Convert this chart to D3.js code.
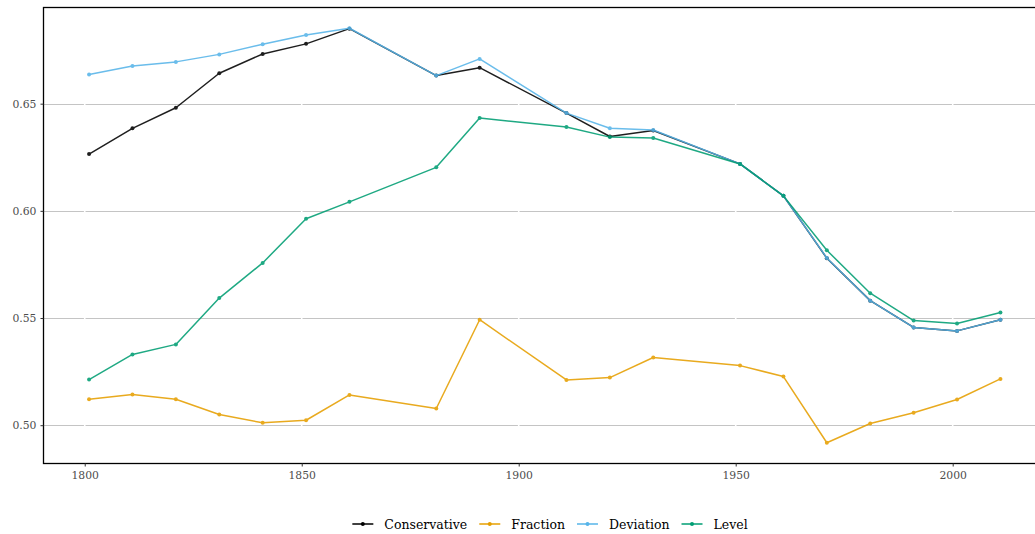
<!DOCTYPE html>
<html>
<head>
<meta charset="utf-8">
<script src="https://cdn.jsdelivr.net/npm/d3@7"></script>
<style>
  html, body { margin: 0; padding: 0; background: #ffffff; }
  svg { display: block; }
</style>
</head>
<body>
<svg id="chart" width="1035" height="534"></svg>
<script>
// Census years with observations
const years = [1801, 1811, 1821, 1831, 1841, 1851, 1861, 1881, 1891, 1911, 1921, 1931, 1951, 1961, 1971, 1981, 1991, 2001, 2011];

// Series values, one per year
const conservative = [0.6265, 0.6385, 0.6481, 0.6642, 0.6732, 0.6779, 0.6850, 0.6631, 0.6668, 0.6456, 0.6347, 0.6375, 0.6219, 0.6070, 0.5779, 0.5581, 0.5456, 0.5440, 0.5492];
const fraction     = [0.5121, 0.5143, 0.5121, 0.5050, 0.5011, 0.5023, 0.5141, 0.5078, 0.5492, 0.5211, 0.5222, 0.5316, 0.5278, 0.5227, 0.4918, 0.5008, 0.5058, 0.5120, 0.5216];
const deviation    = [0.6636, 0.6676, 0.6695, 0.6730, 0.6777, 0.6820, 0.6852, 0.6631, 0.6709, 0.6456, 0.6385, 0.6377, 0.6219, 0.6070, 0.5780, 0.5581, 0.5456, 0.5440, 0.5492];
const level        = [0.5213, 0.5330, 0.5377, 0.5593, 0.5757, 0.5963, 0.6042, 0.6203, 0.6433, 0.6391, 0.6344, 0.6340, 0.6219, 0.6070, 0.5816, 0.5616, 0.5488, 0.5474, 0.5526];

const seriesNames = ["Conservative", "Fraction", "Deviation", "Level"];
const seriesColors = ["#000000", "#E69F00", "#56B4E9", "#009E73"];
const seriesValues = [conservative, fraction, deviation, level];

const xTicks = [1800, 1850, 1900, 1950, 2000];
const yTicks = [0.50, 0.55, 0.60, 0.65];

const svg = d3.select("#chart");
const FONT = "'DejaVu Serif', 'Liberation Serif', serif";

// Panel geometry (the panel runs past the right edge of the page)
const panel = { left: 43.5, top: 7.5, right: 1046, bottom: 463.5 };

// Scales with 5% padding on each side of the data range
const allVals = seriesValues.flat();
const yMin = d3.min(allVals), yMax = d3.max(allVals);
const yPad = (yMax - yMin) * 0.05;
const xMin = d3.min(years), xMax = d3.max(years);
const xPad = (xMax - xMin) * 0.05;

const x = d3.scaleLinear().domain([xMin - xPad, xMax + xPad]).range([panel.left, panel.right]);
const y = d3.scaleLinear().domain([yMin - yPad, yMax + yPad]).range([panel.bottom, panel.top]);

// Horizontal grid lines
const grid = svg.append("g");
grid.selectAll("line.h")
  .data(yTicks)
  .join("line")
  .attr("class", "h")
  .attr("x1", panel.left).attr("x2", panel.right)
  .attr("y1", d => Math.round(y(d)) + 0.5).attr("y2", d => Math.round(y(d)) + 0.5)
  .attr("stroke", "#c4c4c4")
  .attr("stroke-width", 1);

// White vertical grid lines at the year breaks
grid.selectAll("line.v")
  .data(xTicks)
  .join("line")
  .attr("class", "v")
  .attr("x1", d => x(d)).attr("x2", d => x(d))
  .attr("y1", panel.top).attr("y2", panel.bottom)
  .attr("stroke", "#ffffff")
  .attr("stroke-width", 1.6);

// Series lines and points
const lineGen = d3.line().x(d => x(d[0])).y(d => y(d[1]));
seriesValues.forEach((vals, i) => {
  const pts = years.map((yr, j) => [yr, vals[j]]);
  const g = svg.append("g").attr("opacity", 0.88);
  g.append("path")
    .datum(pts)
    .attr("d", lineGen)
    .attr("fill", "none")
    .attr("stroke", seriesColors[i])
    .attr("stroke-width", 1.5)
    .attr("stroke-linejoin", "round");
  g.selectAll("circle")
    .data(pts)
    .join("circle")
    .attr("cx", d => x(d[0]))
    .attr("cy", d => y(d[1]))
    .attr("r", 2)
    .attr("fill", seriesColors[i]);
});

// Panel border
svg.append("rect")
  .attr("x", panel.left).attr("y", panel.top)
  .attr("width", panel.right - panel.left)
  .attr("height", panel.bottom - panel.top)
  .attr("fill", "none")
  .attr("stroke", "#000000")
  .attr("stroke-width", 1.3);

// Axes
const yAxis = d3.axisLeft(y).tickValues(yTicks).tickFormat(d3.format(".2f")).tickSize(3).tickPadding(4);
const xAxis = d3.axisBottom(x).tickValues(xTicks).tickFormat(d3.format("d")).tickSize(3).tickPadding(5);

const gy = svg.append("g").attr("transform", `translate(${panel.left},0)`).call(yAxis);
const gx = svg.append("g").attr("transform", `translate(0,${panel.bottom})`).call(xAxis);

[gy, gx].forEach(g => {
  g.select(".domain").remove();
  g.selectAll(".tick line").attr("stroke", "#333333").attr("stroke-width", 1);
  g.selectAll(".tick text")
    .attr("fill", "#4d4d4d")
    .attr("font-family", FONT)
    .attr("font-size", 10.8);
});

// Legend along the bottom
const legend = svg.append("g");
const keyW = 21, keyGap = 11, itemGap = 12;
const legendY = 524;
let cursor = 0;
seriesNames.forEach((name, i) => {
  const it = legend.append("g");
  it.append("line")
    .attr("x1", 0).attr("x2", keyW)
    .attr("y1", legendY).attr("y2", legendY)
    .attr("stroke", seriesColors[i]).attr("stroke-width", 1.5);
  it.append("circle")
    .attr("cx", keyW / 2).attr("cy", legendY).attr("r", 2)
    .attr("fill", seriesColors[i]);
  const t = it.append("text")
    .attr("x", keyW + keyGap).attr("y", legendY + 4.5)
    .attr("font-family", FONT)
    .attr("font-size", 12.5)
    .attr("fill", "#000000")
    .text(name);
  const w = keyW + keyGap + t.node().getComputedTextLength();
  it.attr("transform", `translate(${cursor},0)`);
  cursor += w + itemGap;
});
const totalW = cursor - itemGap;
legend.attr("transform", `translate(${550 - totalW / 2},0)`);
</script>
</body>
</html>
